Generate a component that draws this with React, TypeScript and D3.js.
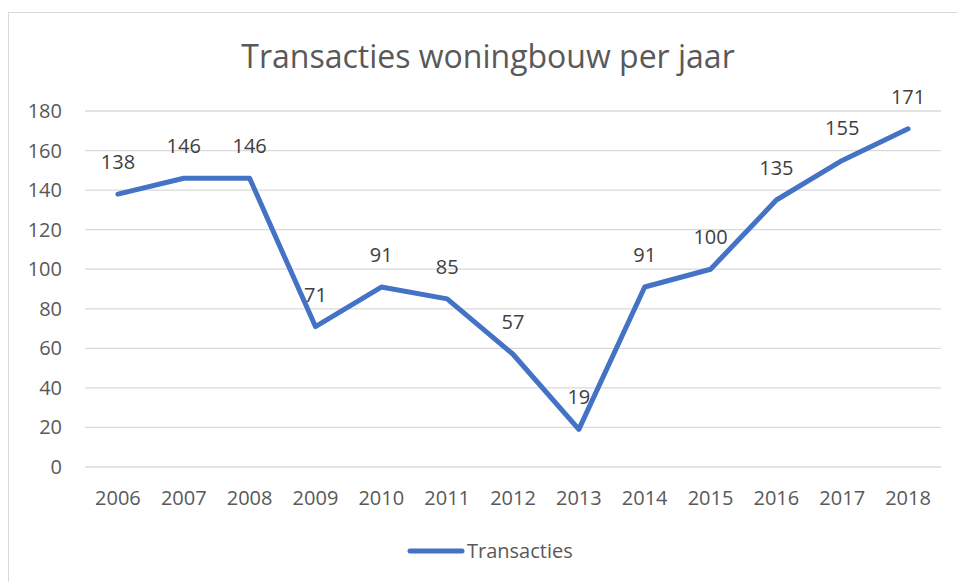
import React from "react";
import * as d3 from "d3";

const years = ["2006","2007","2008","2009","2010","2011","2012","2013","2014","2015","2016","2017","2018"];
const transacties = [138,146,146,71,91,85,57,19,91,100,135,155,171];
const yTicks = [0,20,40,60,80,100,120,140,160,180];
const title = "Transacties woningbouw per jaar";
const seriesName = "Transacties";

const W = 957, H = 582;
const left = 85, right = 941, top = 111, bottom = 467;
const font = "'Open Sans', sans-serif";
const txt = "#595959";
const blue = "#4472C4";

export default function App() {
  const x = d3.scaleBand<string>().domain(years).range([left, right]).paddingInner(0).paddingOuter(0);
  const y = d3.scaleLinear().domain([0, 180]).range([bottom, top]);
  const cx = (d: string) => (x(d) as number) + x.bandwidth() / 2;
  const line = d3.line<number>().x((_, i) => cx(years[i])).y((v) => y(v));
  return (
    <svg width={W} height={H} style={{ position: "absolute", left: 0, top: 0, background: "#fff" }} fontFamily={font}>
      <rect x={8.5} y={12.5} width={1000} height={1000} fill="#fff" stroke="#d9d9d9" strokeWidth={1} />
      <text x={488} y={68} textAnchor="middle" fontSize={32} fill={txt}>{title}</text>
      {yTicks.map((t) => (
        <g key={t}>
          <line x1={left} x2={right} y1={y(t)} y2={y(t)} stroke="#d9d9d9" strokeWidth={1.3} />
          <text x={62} y={y(t)} dy="0.35em" textAnchor="end" fontSize={20} fill={txt}>{t}</text>
        </g>
      ))}
      {years.map((yr) => (
        <text key={yr} x={cx(yr)} y={505} textAnchor="middle" fontSize={20} fill={txt}>{yr}</text>
      ))}
      <path d={line(transacties) || ""} fill="none" stroke={blue} strokeWidth={5} strokeLinejoin="round" strokeLinecap="round" />
      {transacties.map((v, i) => (
        <text key={i} x={cx(years[i])} y={y(v) - 25} textAnchor="middle" fontSize={20} fill="#404040">{v}</text>
      ))}
      <line x1={410} x2={462} y1={551} y2={551} stroke={blue} strokeWidth={5} strokeLinecap="round" />
      <text x={467} y={551} dy="0.35em" fontSize={20} fill={txt}>{seriesName}</text>
    </svg>
  );
}
